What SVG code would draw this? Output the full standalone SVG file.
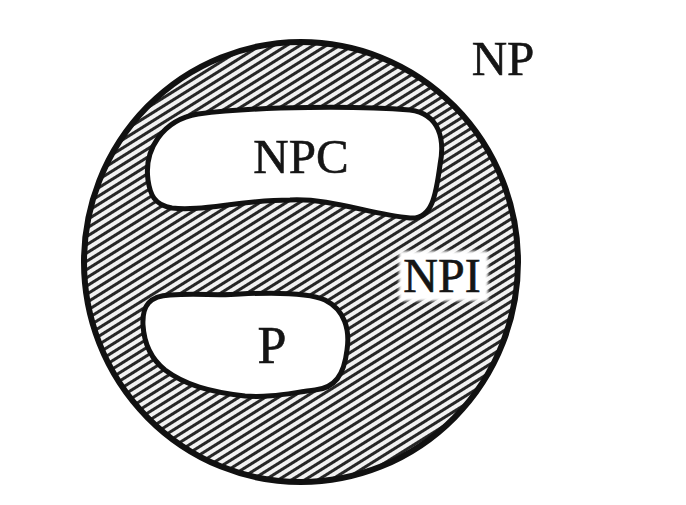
<svg xmlns="http://www.w3.org/2000/svg" width="686" height="505" viewBox="0 0 686 505">
<defs>
<pattern id="hatch" width="7" height="7" patternUnits="userSpaceOnUse" patternTransform="rotate(-32)">
<rect width="7" height="7" fill="#f2f2f2"/>
<rect width="7" height="3" fill="#262626"/>
</pattern>
<filter id="soft" x="-10%" y="-10%" width="120%" height="120%"><feGaussianBlur stdDeviation="1.5"/></filter>
</defs>
<style>
.lbl{font-family:"Liberation Serif","Times New Roman",serif;fill:#151515;stroke:#151515;stroke-width:0.6;text-anchor:middle}
.blob{fill:#fff;stroke:#111;stroke-width:5;stroke-linejoin:round}
</style>
<rect width="686" height="505" fill="#fff"/>
<g id="NP">
<ellipse cx="301" cy="262" rx="217" ry="220" fill="url(#hatch)" stroke="#111" stroke-width="6"/>
<text class="lbl" x="503" y="75" font-size="49">NP</text>
</g>
<g id="NPC">
<path class="blob" d="M148,180 C144,150 162,120 198,114 C260,106 360,106 410,110 C440,114 445,140 440,165 C436,195 432,220 410,218 C370,214 330,198 290,200 C240,200 200,212 172,208 C154,205 150,194 148,180 Z"/>
<text class="lbl" x="301" y="173" font-size="49">NPC</text>
</g>
<g id="P">
<path class="blob" d="M143,325 C142,305 150,296 170,295 C200,293 215,296 240,294 C280,292 310,293 325,300 C345,310 350,330 347,350 C344,375 335,388 315,390 C290,393 270,398 245,396 C210,392 185,385 165,370 C150,358 144,342 143,325 Z"/>
<text class="lbl" x="272" y="363" font-size="52">P</text>
</g>
<g id="NPI">
<rect x="399" y="251" width="89" height="50" fill="#fff" filter="url(#soft)"/>
<text class="lbl" x="442" y="292" font-size="48">NPI</text>
</g>
<g id="connectors"/>
</svg>
